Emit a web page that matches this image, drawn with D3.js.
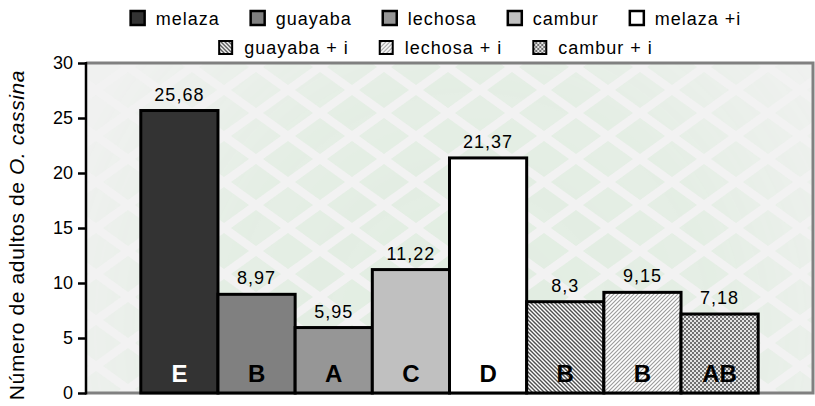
<!DOCTYPE html>
<html>
<head>
<meta charset="utf-8">
<script src="https://cdn.jsdelivr.net/npm/d3@7"></script>
<style>
  html, body { margin: 0; padding: 0; background: #ffffff; }
  svg { display: block; }
  svg text { font-family: "Liberation Sans", Arial, sans-serif; }
</style>
</head>
<body>
<svg id="chart" width="815" height="406"></svg>
<script>
// Treatments (diets) and mean number of O. cassina adults
const series = ["melaza", "guayaba", "lechosa", "cambur", "melaza +i", "guayaba + i", "lechosa + i", "cambur + i"];
const values = [25.68, 8.97, 5.95, 11.22, 21.37, 8.3, 9.15, 7.18];
const valueLabels = ["25,68", "8,97", "5,95", "11,22", "21,37", "8,3", "9,15", "7,18"];
const groupLetters = ["E", "B", "A", "C", "D", "B", "B", "AB"];
const yTicks = [0, 5, 10, 15, 20, 25, 30];
const legendRows = [
  ["melaza", "guayaba", "lechosa", "cambur", "melaza +i"],
  ["guayaba + i", "lechosa + i", "cambur + i"]
];

const FONT = "Liberation Sans, Arial, sans-serif";

const fills = {
  "melaza": "#333333",
  "guayaba": "#808080",
  "lechosa": "#969696",
  "cambur": "#c0c0c0",
  "melaza +i": "#ffffff",
  "guayaba + i": "url(#patDown)",
  "lechosa + i": "url(#patUp)",
  "cambur + i": "url(#patCheck)"
};

const svg = d3.select("#chart");
const plot = { left: 86, right: 813, top: 63, bottom: 393 };

const defs = svg.append("defs");

// hatch: dark downward diagonal
const pDown = defs.append("pattern").attr("id", "patDown")
  .attr("patternUnits", "userSpaceOnUse").attr("width", 4).attr("height", 4);
pDown.append("rect").attr("width", 4).attr("height", 4).attr("fill", "#ffffff");
pDown.append("path").attr("d", "M-1,-1L5,5M-1,3L1,5M3,-1L5,1")
  .attr("stroke", "#505050").attr("stroke-width", 1.4);

// hatch: light upward diagonal
const pUp = defs.append("pattern").attr("id", "patUp")
  .attr("patternUnits", "userSpaceOnUse").attr("width", 4).attr("height", 4);
pUp.append("rect").attr("width", 4).attr("height", 4).attr("fill", "#ffffff");
pUp.append("path").attr("d", "M-1,5L5,-1M-1,1L1,-1M3,5L5,3")
  .attr("stroke", "#9a9a9a").attr("stroke-width", 1.1);

// small checkerboard
const pChk = defs.append("pattern").attr("id", "patCheck")
  .attr("patternUnits", "userSpaceOnUse").attr("width", 4).attr("height", 4);
pChk.append("rect").attr("width", 4).attr("height", 4).attr("fill", "#e4e4e4");
pChk.append("rect").attr("x", 0).attr("y", 0).attr("width", 2).attr("height", 2).attr("fill", "#707070");
pChk.append("rect").attr("x", 2).attr("y", 2).attr("width", 2).attr("height", 2).attr("fill", "#707070");

// decorative diamond lattice behind the plot
const pDia = defs.append("pattern").attr("id", "patDiamond")
  .attr("patternUnits", "userSpaceOnUse").attr("width", 64).attr("height", 46)
  .attr("x", plot.left + 10).attr("y", plot.top + 4);
const dia = (cx, cy) => `M${cx - 25},${cy}L${cx},${cy - 18}L${cx + 25},${cy}L${cx},${cy + 18}Z`;
pDia.append("path")
  .attr("d", [dia(0, 0), dia(64, 0), dia(0, 46), dia(64, 46), dia(32, 23)].join(""))
  .attr("fill", "#dfecdf");

const grad = defs.append("radialGradient").attr("id", "fadeGrad")
  .attr("gradientUnits", "userSpaceOnUse")
  .attr("cx", 470).attr("cy", 330).attr("r", 430);
grad.append("stop").attr("offset", "0").attr("stop-color", "#fff").attr("stop-opacity", 0.9);
grad.append("stop").attr("offset", "0.6").attr("stop-color", "#fff").attr("stop-opacity", 0.7);
grad.append("stop").attr("offset", "1").attr("stop-color", "#fff").attr("stop-opacity", 0.1);
defs.append("mask").attr("id", "fadeMask")
  .append("rect").attr("x", plot.left).attr("y", plot.top)
  .attr("width", plot.right - plot.left).attr("height", plot.bottom - plot.top)
  .attr("fill", "url(#fadeGrad)");

// plot background
svg.append("rect")
  .attr("x", plot.left).attr("y", plot.top)
  .attr("width", plot.right - plot.left).attr("height", plot.bottom - plot.top)
  .attr("fill", "#f2f2f2");
svg.append("rect")
  .attr("x", plot.left).attr("y", plot.top)
  .attr("width", plot.right - plot.left).attr("height", plot.bottom - plot.top)
  .attr("fill", "url(#patDiamond)").attr("mask", "url(#fadeMask)");

// plot frame (top, right, bottom in gray)
svg.append("path")
  .attr("d", `M${plot.left},${plot.top}H${plot.right}V${plot.bottom}H${plot.left}`)
  .attr("fill", "none").attr("stroke", "#808080").attr("stroke-width", 3);

// scales
const x = d3.scaleBand().domain(series)
  .range([plot.left, plot.right]).paddingInner(0).paddingOuter(0.71);
const y = d3.scaleLinear().domain([0, 30]).range([plot.bottom, plot.top]);

const data = series.map((s, i) => ({ s, v: values[i], label: valueLabels[i], letter: groupLetters[i], i }));

// bars
svg.append("g").selectAll("rect").data(data).join("rect")
  .attr("x", d => x(d.s))
  .attr("y", d => y(d.v))
  .attr("width", x.bandwidth())
  .attr("height", d => y(0) - y(d.v))
  .attr("fill", d => fills[d.s])
  .attr("stroke", "#000").attr("stroke-width", 3);

// value labels
svg.append("g").selectAll("text").data(data).join("text")
  .attr("x", d => x(d.s) + x.bandwidth() / 2)
  .attr("y", d => y(d.v) - 10)
  .attr("text-anchor", "middle")
  .attr("font-family", FONT)
  .attr("font-size", 18).attr("letter-spacing", 1)
  .attr("fill", "#000")
  .text(d => d.label);

// significance letters
svg.append("g").selectAll("text").data(data).join("text")
  .attr("x", d => x(d.s) + x.bandwidth() / 2)
  .attr("y", 382)
  .attr("text-anchor", "middle")
  .attr("font-family", FONT)
  .attr("font-size", 24).attr("font-weight", "bold")
  .attr("fill", d => d.i === 0 ? "#ffffff" : "#000000")
  .text(d => d.letter);

// y axis
const yAxis = d3.axisLeft(y).tickValues(yTicks).tickSize(8).tickSizeOuter(0).tickPadding(5);
const gy = svg.append("g").attr("transform", `translate(${plot.left},0)`).call(yAxis);
gy.attr("font-family", FONT);
gy.select(".domain").remove();
gy.selectAll(".tick line").attr("stroke", "#000").attr("stroke-width", 2.5);
gy.selectAll(".tick text").attr("font-size", 18).attr("fill", "#000");
svg.append("line")
  .attr("x1", plot.left).attr("x2", plot.left)
  .attr("y1", y(30) - 1).attr("y2", y(0) + 1.5)
  .attr("stroke", "#000").attr("stroke-width", 2.5);

// y axis title
const yt = svg.append("text")
  .attr("transform", `translate(24,${(plot.top + plot.bottom) / 2 + 7}) rotate(-90)`)
  .attr("text-anchor", "middle")
  .attr("font-family", FONT)
  .attr("font-size", 21).attr("letter-spacing", 0.6)
  .attr("fill", "#000");
yt.append("tspan").text("Número de adultos de ");
yt.append("tspan").attr("font-style", "italic").text("O. cassina");

// legend
const legendCenter = 436;
const rowY = [25, 54];
legendRows.forEach((row, r) => {
  const g = svg.append("g");
  const items = g.selectAll("g").data(row).join("g");
  const sw = r === 0 ? 14 : 13;
  items.append("rect")
    .attr("width", sw).attr("height", sw)
    .attr("y", rowY[r] - sw)
    .attr("fill", d => fills[d])
    .attr("stroke", "#000").attr("stroke-width", r === 0 ? 2.5 : 2);
  items.append("text")
    .attr("x", 25).attr("y", rowY[r])
    .attr("font-family", FONT)
    .attr("font-size", 18).attr("letter-spacing", 1)
    .attr("fill", "#000")
    .text(d => d);
  let cx = 0;
  const offs = [];
  items.each(function () {
    offs.push(cx);
    const w = d3.select(this).select("text").node().getComputedTextLength();
    cx += 25 + w + 31;
  });
  const total = cx - 31;
  const start = legendCenter - total / 2;
  items.attr("transform", (d, i) => `translate(${start + offs[i]},0)`);
});
</script>
</body>
</html>
